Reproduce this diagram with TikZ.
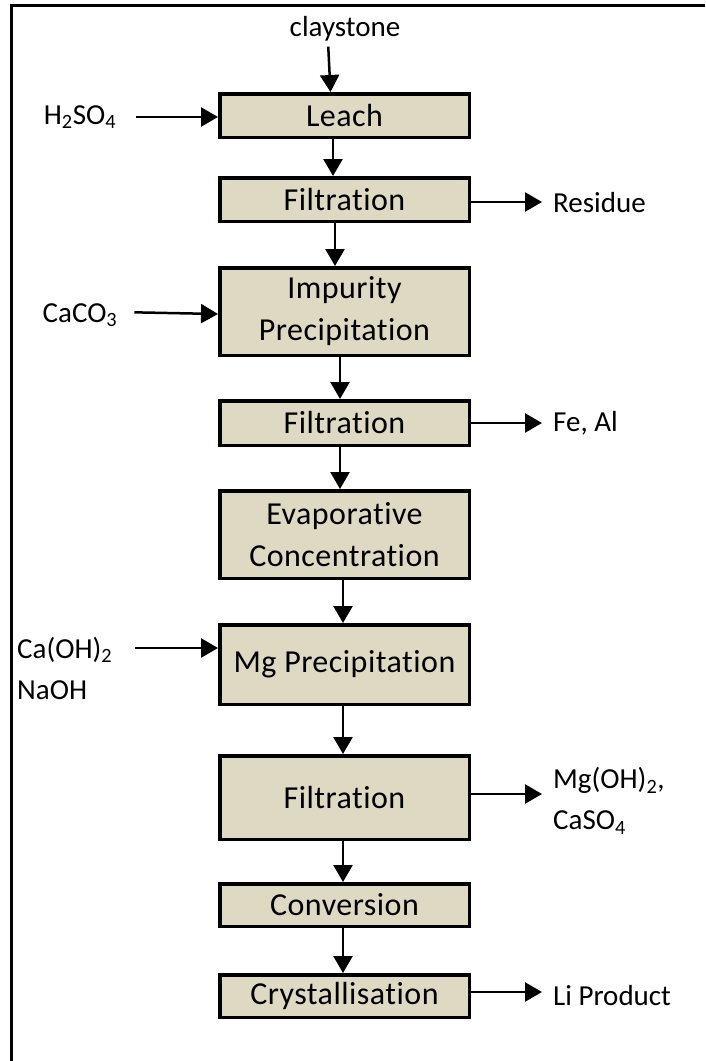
\documentclass[tikz,border=0pt]{standalone}
\usepackage{fontspec}
\setmainfont{Carlito}[RawFeature=-liga]
\newfontfamily\boxfont{Carlito}[RawFeature=-liga, LetterSpace=1.5]
\usetikzlibrary{arrows.meta}
\definecolor{boxfill}{RGB}{221,217,195}
\begin{document}
\begin{tikzpicture}[x=1pt,y=-1pt,
  proc/.style={draw=black, line width=3.5pt, fill=boxfill, minimum width=249.5pt, inner sep=0pt, align=center, font=\boxfont\fontsize{32}{42}\selectfont},
  lbl/.style={inner sep=0pt, font=\fontsize{29}{41}\selectfont, align=left},
  arr/.style={line width=2.5pt, -{Triangle[length=17pt,width=19pt]}}]
\useasboundingbox (0,0) rectangle (705,1061);
\draw[line width=3pt] (11,1061) -- (11,5.5) -- (705,5.5);

\node[proc, minimum height=43.5pt] (leach) at (344.5,115.5) {Leach};
\node[proc, minimum height=43.5pt] (f1) at (344.5,199.5) {Filtration};
\node[proc, minimum height=87.5pt] (imp) at (344.5,311.5) {Impurity\\Precipitation};
\node[proc, minimum height=44.5pt] (f2) at (344.5,423) {Filtration};
\node[proc, minimum height=87.5pt] (evap) at (344.5,534.5) {Evaporative\\Concentration};
\node[proc, minimum height=79.5pt] (mgp) at (344.5,664.5) {Mg Precipitation};
\node[proc, minimum height=83.5pt] (f3) at (344.5,797.5) {Filtration};
\node[proc, minimum height=42.5pt] (conv) at (344.5,905) {Conversion};
\node[proc, minimum height=42.5pt] (cryst) at (344.5,996) {Crystallisation};

\draw[arr] ([xshift=-11.5pt]leach.south) -- ([xshift=-11.5pt]f1.north);
\draw[arr] ([xshift=-9.5pt]f1.south) -- ([xshift=-9.5pt]imp.north);
\draw[arr] ([xshift=-4.5pt]imp.south) -- ([xshift=-4.5pt]f2.north);
\draw[arr] ([xshift=-4.5pt]f2.south) -- ([xshift=-4.5pt]evap.north);
\draw[arr] ([xshift=-1.5pt]evap.south) -- ([xshift=-1.5pt]mgp.north);
\draw[arr] ([xshift=-1.5pt]mgp.south) -- ([xshift=-1.5pt]f3.north);
\draw[arr] ([xshift=-1.5pt]f3.south) -- ([xshift=-1.5pt]conv.north);
\draw[arr] ([xshift=-1.5pt]conv.south) -- ([xshift=-1.5pt]cryst.north);

\node[lbl] (clay) at (345,29) {claystone};
\draw[arr, shorten <=5pt] ([xshift=-17pt]clay.south) -- ([xshift=-14pt]leach.north);

\node[lbl] (h2so4) at (80,117) {H\textsubscript{2}SO\textsubscript{4}};
\draw[arr, shorten <=20pt] (h2so4.east) -- (h2so4.east -| leach.west);

\node[lbl] (caco3) at (80,315) {CaCO\textsubscript{3}};
\draw[arr, shorten <=17pt] ([yshift=3pt]caco3.east) -- ([yshift=-2.5pt]imp.west);

\node[lbl, anchor=west] (camg) at (17,668) {Ca(OH)\textsubscript{2}\\NaOH};
\coordinate (cain) at (135,648);
\draw[arr] (cain) -- (cain -| mgp.west);

\node[lbl, anchor=west] (res) at (553,203) {Residue};
\draw[arr, shorten >=11pt] ([yshift=-2.5pt]f1.east) -- ([yshift=-2.5pt]f1.east -| res.west);

\node[lbl, anchor=west] (feal) at (553,423) {Fe, Al};
\draw[arr, shorten >=11pt] (f2.east) -- (f2.east -| feal.west);

\node[lbl, anchor=west] (mgoh) at (553,801) {Mg(OH)\textsubscript{2},\\CaSO\textsubscript{4}};
\draw[arr, shorten >=11pt] ([yshift=3.5pt]f3.east) -- ([yshift=3.5pt]f3.east -| mgoh.west);

\node[lbl, anchor=west] (li) at (553,996) {Li Product};
\draw[arr, shorten >=11pt] ([yshift=4pt]cryst.east) -- ([yshift=4pt]cryst.east -| li.west);
\end{tikzpicture}
\end{document}
